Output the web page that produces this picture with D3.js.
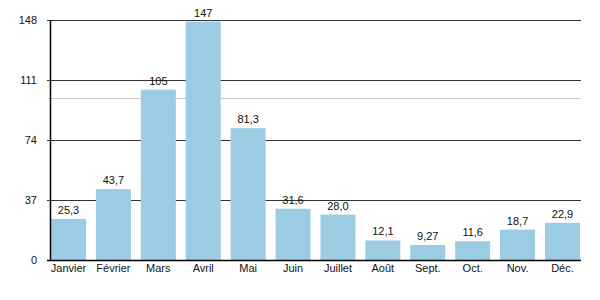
<!DOCTYPE html>
<html>
<head>
<meta charset="utf-8">
<script src="https://cdn.jsdelivr.net/npm/d3@7"></script>
<style>
  body { margin: 0; background: #fff; }
  svg { display: block; font-family: "Liberation Sans", Arial, sans-serif; }
</style>
</head>
<body>
<svg id="chart" width="600" height="300"></svg>
<script>
const months = ['Janvier', 'Février', 'Mars', 'Avril', 'Mai', 'Juin', 'Juillet', 'Août', 'Sept.', 'Oct.', 'Nov.', 'Déc.'];
const values = [25.3, 43.7, 105, 147, 81.3, 31.6, 28.0, 12.1, 9.27, 11.6, 18.7, 22.9];
const yTicks = [0, 37, 74, 111, 148];
const minorLine = 100;

const svg = d3.select('#chart');
const plotLeft = 50, plotRight = 581, plotTop = 20, plotBottom = 260;

const fr = d3.formatLocale({ decimal: ',', thousands: ' ', grouping: [3], currency: ['', ' €'] });
const fmt = fr.format('.3r');

const x = d3.scaleBand()
  .domain(months)
  .range([51, 580])
  .paddingInner(0.22)
  .paddingOuter(0);

const y = d3.scaleLinear()
  .domain([0, 148])
  .range([plotBottom, plotTop]);

// grid lines
svg.append('line')
  .attr('x1', plotLeft - 2).attr('x2', plotRight)
  .attr('y1', Math.round(y(minorLine)) + 0.5).attr('y2', Math.round(y(minorLine)) + 0.5)
  .attr('stroke', '#c8c8c8').attr('stroke-width', 1);

svg.append('g')
  .selectAll('line')
  .data(yTicks.filter(d => d > 0))
  .enter()
  .append('line')
  .attr('x1', plotLeft - 3).attr('x2', plotRight)
  .attr('y1', d => Math.round(y(d)) + 0.5).attr('y2', d => Math.round(y(d)) + 0.5)
  .attr('stroke', '#333').attr('stroke-width', 1);

// bars
svg.append('g')
  .selectAll('rect')
  .data(values)
  .enter()
  .append('rect')
  .attr('x', (d, i) => x(months[i]))
  .attr('width', x.bandwidth())
  .attr('y', d => y(d))
  .attr('height', d => y(0) - y(d))
  .attr('fill', '#9ccbe4');

// value labels
svg.append('g')
  .selectAll('text')
  .data(values)
  .enter()
  .append('text')
  .attr('x', (d, i) => x(months[i]) + x.bandwidth() / 2)
  .attr('y', d => y(d) - 5)
  .attr('text-anchor', 'middle')
  .attr('font-size', 11)
  .attr('fill', '#111')
  .text(d => fmt(d));

// axes lines
svg.append('line')
  .attr('x1', plotLeft + 0.5).attr('x2', plotLeft + 0.5)
  .attr('y1', plotTop).attr('y2', plotBottom + 1)
  .attr('stroke', '#000').attr('stroke-width', 1.5);

svg.append('line')
  .attr('x1', plotLeft - 3).attr('x2', plotRight)
  .attr('y1', plotBottom + 0.5).attr('y2', plotBottom + 0.5)
  .attr('stroke', '#000').attr('stroke-width', 1.5);

// y tick labels
svg.append('g')
  .selectAll('text')
  .data(yTicks)
  .enter()
  .append('text')
  .attr('x', 37)
  .attr('y', d => y(d))
  .attr('dy', '0.35em')
  .attr('text-anchor', 'end')
  .attr('font-size', 11)
  .attr('fill', '#111')
  .text(d => d);

// x labels
svg.append('g')
  .selectAll('text')
  .data(months)
  .enter()
  .append('text')
  .attr('x', d => x(d) + x.bandwidth() / 2)
  .attr('y', 272)
  .attr('text-anchor', 'middle')
  .attr('font-size', 11)
  .attr('fill', '#111')
  .text(d => d);
</script>
</body>
</html>
